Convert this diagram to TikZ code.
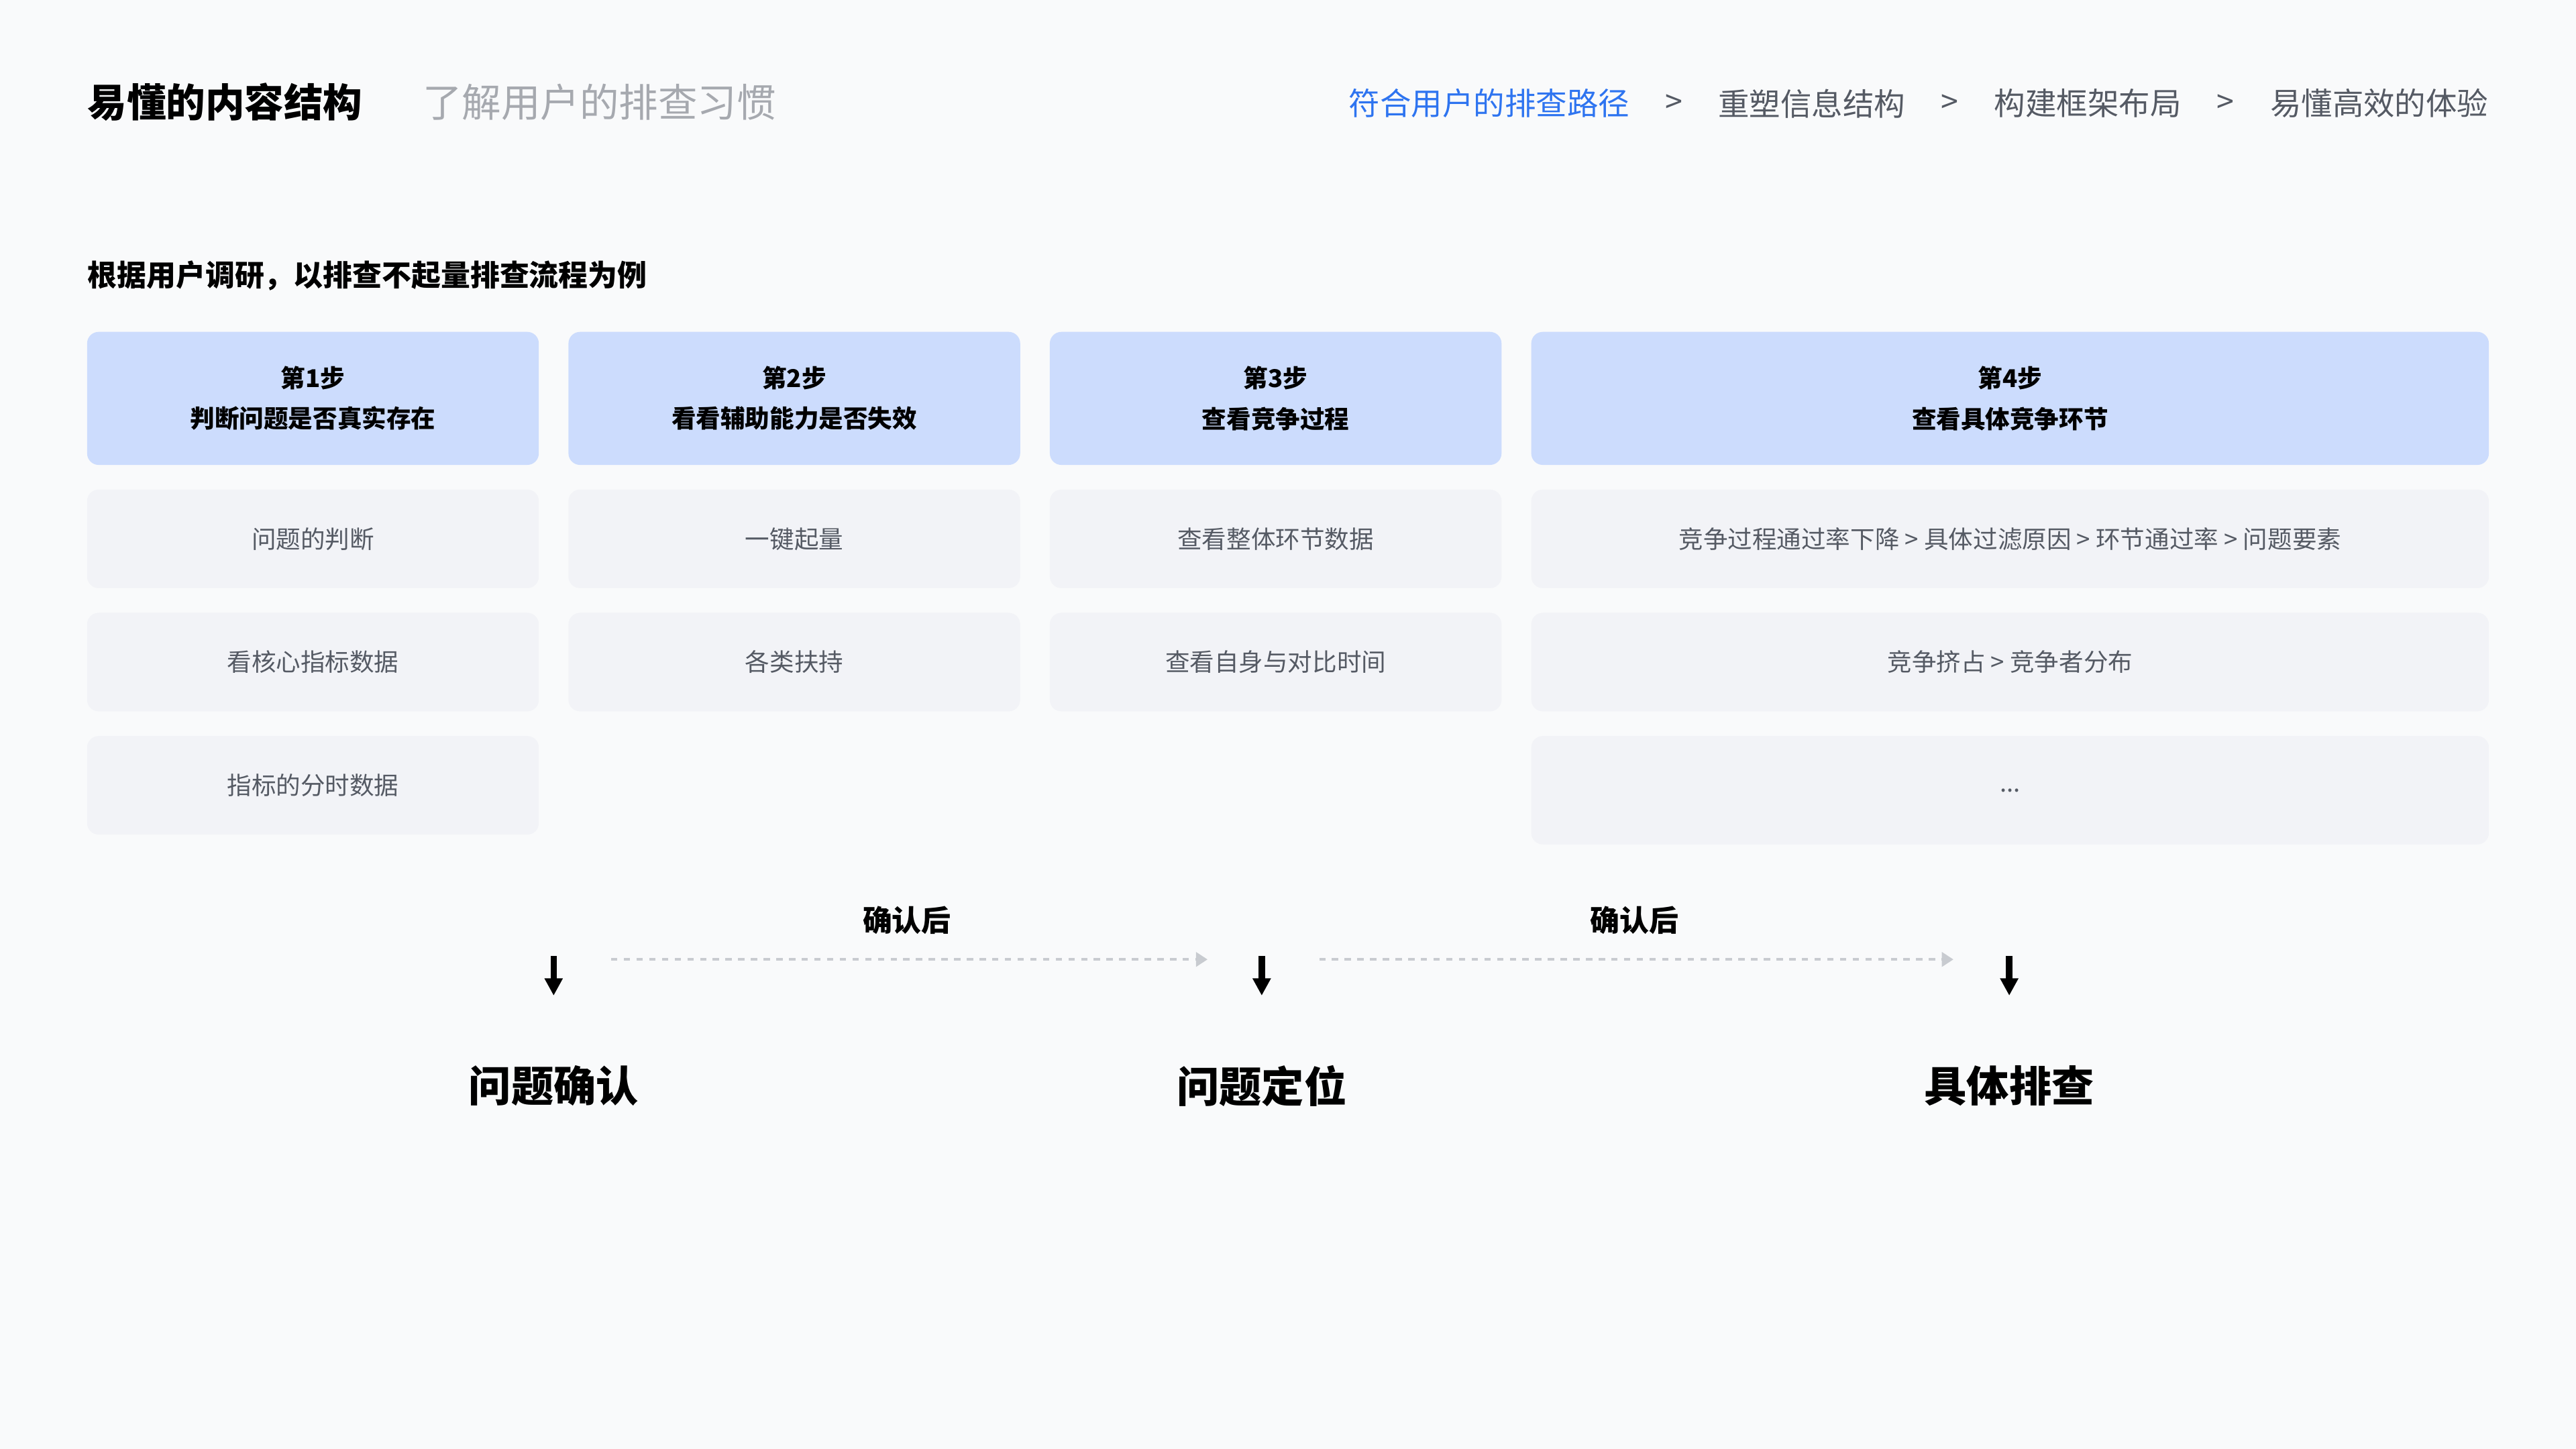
\documentclass[tikz,border=0pt]{standalone}
\usepackage{fontspec}
\setmainfont{Noto Sans CJK SC}
\usetikzlibrary{positioning,arrows.meta}
\definecolor{bgc}{HTML}{F9FAFB}
\definecolor{hdrc}{HTML}{CCDCFD}
\definecolor{cellc}{HTML}{F2F3F7}
\definecolor{bluec}{HTML}{2E74F0}
\definecolor{greyc}{HTML}{555A64}
\definecolor{lgreyc}{HTML}{A6A9AF}
\definecolor{dashc}{HTML}{C8CBD0}
\tikzset{
  hdr/.style={fill=hdrc, rounded corners=4pt, align=center, font=\fontsize{8.5}{14}\selectfont\bfseries, inner sep=0pt},
  cell/.style={fill=cellc, rounded corners=4pt, align=center, text=greyc, font=\fontsize{8.5}{10}\selectfont, inner sep=0pt},
  crumb/.style={font=\fontsize{10.8}{12}\selectfont, text=greyc, inner sep=0pt},
  down/.style={-{Triangle[length=6pt,width=6pt]}, line width=2.2pt},
  flow/.style={-{Triangle[length=4pt,width=5pt]}, dash pattern=on 2.2pt off 2.2pt, line width=0.8pt, draw=dashc},
  stage/.style={font=\fontsize{14.7}{16}\selectfont\bfseries, inner sep=0pt}
}
\begin{document}
\begin{tikzpicture}[x=0.02cm,y=-0.02cm]
\fill[bgc] (0,0) rectangle (1568,882);
% titles
\node[anchor=west, inner sep=0pt, font=\fontsize{13.6}{15}\selectfont\bfseries] (title) at (53,62) {易懂的内容结构};
\node[anchor=west, inner sep=0pt, font=\fontsize{13.6}{15}\selectfont, text=lgreyc] (subtitle) at (257,62) {了解用户的排查习惯};
\node[crumb, anchor=east] (c4) at (1515,63) {易懂高效的体验};
\node[crumb, left=12pt of c4] (g3) {>};
\node[crumb, left=12pt of g3] (c3) {构建框架布局};
\node[crumb, left=12pt of c3] (g2) {>};
\node[crumb, left=12pt of g2] (c2) {重塑信息结构};
\node[crumb, left=12pt of c2] (g1) {>};
\node[crumb, left=12pt of g1, text=bluec] (c1) {符合用户的排查路径};
\node[anchor=west, inner sep=0pt, font=\fontsize{10.2}{12}\selectfont\bfseries] (intro) at (53,168) {根据用户调研，以排查不起量排查流程为例};
% table
\node[hdr, minimum width=5.5cm, minimum height=1.62cm] (h1) at (190.5,242.5) {第1步\\判断问题是否真实存在};
\node[hdr, minimum width=5.5cm, minimum height=1.62cm] (h2) at (483.5,242.5) {第2步\\看看辅助能力是否失效};
\node[hdr, minimum width=5.5cm, minimum height=1.62cm] (h3) at (776.5,242.5) {第3步\\查看竞争过程};
\node[hdr, minimum width=11.66cm, minimum height=1.62cm] (h4) at (1223.5,242.5) {第4步\\查看具体竞争环节};
\node[cell, minimum width=5.5cm, minimum height=1.2cm] (a1) at (190.5,328) {问题的判断};
\node[cell, minimum width=5.5cm, minimum height=1.2cm] (a2) at (483.5,328) {一键起量};
\node[cell, minimum width=5.5cm, minimum height=1.2cm] (a3) at (776.5,328) {查看整体环节数据};
\node[cell, minimum width=11.66cm, minimum height=1.2cm] (a4) at (1223.5,328) {竞争过程通过率下降 > 具体过滤原因 > 环节通过率 > 问题要素};
\node[cell, minimum width=5.5cm, minimum height=1.2cm] (b1) at (190.5,403) {看核心指标数据};
\node[cell, minimum width=5.5cm, minimum height=1.2cm] (b2) at (483.5,403) {各类扶持};
\node[cell, minimum width=5.5cm, minimum height=1.2cm] (b3) at (776.5,403) {查看自身与对比时间};
\node[cell, minimum width=11.66cm, minimum height=1.2cm] (b4) at (1223.5,403) {竞争挤占 > 竞争者分布};
\node[cell, minimum width=5.5cm, minimum height=1.2cm] (d1) at (190.5,478) {指标的分时数据};
\node[cell, minimum width=11.66cm, minimum height=1.32cm] (d4) at (1223.5,481) {...};
% flow
\foreach \n/\x in {p/337,q/768,r/1223}{
  \coordinate (\n top) at (\x,582);
  \coordinate (\n bot) at (\x,606);
  \draw[down] (\n top) -- (\n bot);
}
\node[stage] (s1) at (337,661) {问题确认};
\node[stage] (s2) at (768,661) {问题定位};
\node[stage] (s3) at (1223,661) {具体排查};
\coordinate (f1a) at (372,584); \coordinate (f1b) at (735,584);
\coordinate (f2a) at (803,584); \coordinate (f2b) at (1189,584);
\draw[flow] (f1a) -- (f1b);
\draw[flow] (f2a) -- (f2b);
\node[font=\fontsize{10.2}{12}\selectfont\bfseries, inner sep=0pt] (l1) at (552,560) {确认后};
\node[font=\fontsize{10.2}{12}\selectfont\bfseries, inner sep=0pt] (l2) at (995,560) {确认后};
\end{tikzpicture}
\end{document}
